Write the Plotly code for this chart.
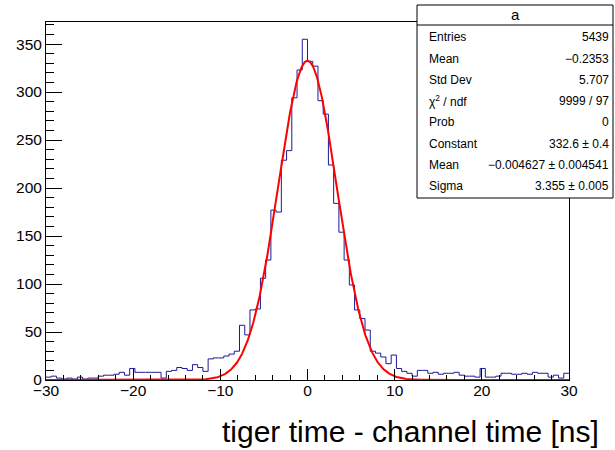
import numpy as np
import plotly.graph_objects as go

# ---------------- data ----------------
x_lo, x_hi, n_bins = -30.0, 30.0, 100
counts = [
    3, 4, 2, 1, 2, 1, 3, 1, 2, 2,
    4, 5, 5, 6, 8, 5, 12, 8, 8, 8,
    8, 8, 2, 9, 10, 13, 12, 10, 16, 13,
    9, 22, 23, 23, 25, 27, 30, 57, 47, 73,
    74, 106, 125, 177, 175, 229, 239, 294, 323, 355,
    332, 327, 291, 277, 224, 184, 154, 125, 99, 73,
    64, 52, 30, 28, 24, 17, 26, 12, 9, 7,
    4, 10, 10, 7, 8, 6, 7, 7, 8, 5,
    4, 4, 3, 12, 3, 3, 4, 7, 7, 6,
    6, 7, 6, 8, 7, 7, 3, 5, 2, 7,
]
fit_constant, fit_mean, fit_sigma = 332.6, -0.004627, 3.355

x_ticks = [-30, -20, -10, 0, 10, 20, 30]
y_max = 373

stats_title = "a"
stat_labels = ["Entries", "Mean", "Std Dev", "χ<sup>2</sup> / ndf", "Prob",
               "Constant", "Mean", "Sigma"]
stat_values = ["5439", "−0.2353", "5.707", "9999 / 97", "0",
               "332.6 ± 0.4", "−0.004627 ± 0.004541", "3.355 ± 0.005"]
x_title = "tiger time - channel time [ns]"

# ---------------- geometry helpers ----------------
L, R, T, B = 46, 569, 22, 380
W, H = 615, 450


def px_x(p):
    return (p - L) / (R - L)


def px_y(p):
    return (B - p) / (B - T)


FONT = "Liberation Sans, Arial, Helvetica, sans-serif"

edges = np.linspace(x_lo, x_hi, n_bins + 1)
step_y = list(counts) + [counts[-1]]

xf = np.linspace(x_lo, x_hi, 1200)
yf = fit_constant * np.exp(-0.5 * ((xf - fit_mean) / fit_sigma) ** 2)

fig = go.Figure()
fig.add_trace(go.Scatter(x=edges, y=step_y, mode="lines", line_shape="hv",
                         line=dict(color="#1a1a99", width=1), hoverinfo="skip"))
fig.add_trace(go.Scatter(x=xf, y=yf, mode="lines",
                         line=dict(color="#ff0000", width=2), hoverinfo="skip"))

fig.update_layout(
    width=W, height=H,
    margin=dict(l=L, r=W - R, t=T, b=H - B),
    paper_bgcolor="white", plot_bgcolor="white",
    showlegend=False,
    font=dict(family=FONT, size=15.5, color="black"),
)
fig.update_xaxes(
    range=[x_lo, x_hi], tickvals=x_ticks,
    ticks="inside", ticklen=11, tickcolor="black", tickwidth=1,
    ticklabelstandoff=-4,
    showline=True, linecolor="black", linewidth=1, mirror=True,
    showgrid=False, zeroline=False,
    minor=dict(ticks="inside", ticklen=5.5, dtick=2, tick0=0,
               tickcolor="black", showgrid=False),
)
fig.update_yaxes(
    range=[0, y_max], dtick=50, tick0=0,
    ticks="inside", ticklen=15.5, tickcolor="black", tickwidth=1,
    showline=True, linecolor="black", linewidth=1, mirror=True,
    showgrid=False, zeroline=False,
    minor=dict(ticks="inside", ticklen=8, dtick=10, tick0=0,
               tickcolor="black", showgrid=False),
)

# stats box
bx0, bx1, by0, by1, byt = 417, 613, 198, 5, 25
fig.add_shape(type="rect", xref="paper", yref="paper",
              x0=px_x(bx0), x1=px_x(bx1), y0=px_y(by0), y1=px_y(by1),
              fillcolor="white", line=dict(color="black", width=1), layer="above")
fig.add_shape(type="line", xref="paper", yref="paper",
              x0=px_x(bx0), x1=px_x(bx1), y0=px_y(byt), y1=px_y(byt),
              line=dict(color="black", width=1), layer="above")
fig.add_annotation(text=stats_title, xref="paper", yref="paper",
                   x=px_x((bx0 + bx1) / 2), y=px_y(14.5), showarrow=False,
                   xanchor="center", yanchor="middle",
                   font=dict(family=FONT, size=15, color="black"))
row_y0, row_dy = 37.3, 21.25
for i, (lab, val) in enumerate(zip(stat_labels, stat_values)):
    yy = px_y(row_y0 + i * row_dy)
    fig.add_annotation(text=lab, xref="paper", yref="paper", x=px_x(427), y=yy,
                       showarrow=False, xanchor="left", yanchor="middle",
                       font=dict(family=FONT, size=12, color="black"))
    fig.add_annotation(text=val, xref="paper", yref="paper", x=px_x(611), y=yy,
                       showarrow=False, xanchor="right", yanchor="middle",
                       font=dict(family=FONT, size=12, color="black"))

# x-axis title (ROOT style, right aligned)
fig.add_annotation(text=x_title, xref="paper", yref="paper",
                   x=px_x(601), y=px_y(431), showarrow=False,
                   xanchor="right", yanchor="middle",
                   font=dict(family=FONT, size=30, color="black"))

fig.write_html("out.html")
